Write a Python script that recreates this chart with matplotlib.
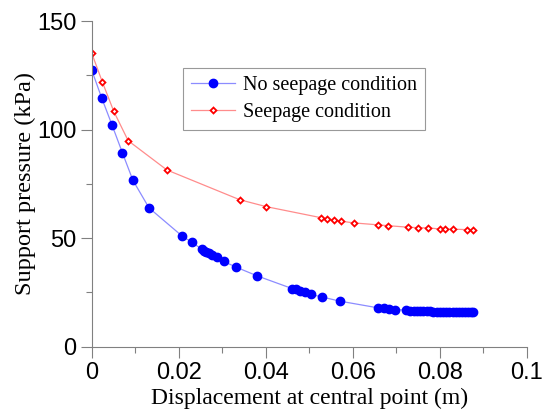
import matplotlib
matplotlib.use("Agg")
import matplotlib.pyplot as plt
from matplotlib.ticker import MultipleLocator

# No seepage condition
x_noseep = [0, 0.0023, 0.0047, 0.0071, 0.0095, 0.0132, 0.0207, 0.0230, 0.0253, 0.0258,
            0.0264, 0.0270, 0.0277, 0.0287, 0.0304, 0.0332, 0.0380, 0.0461, 0.0469, 0.0478,
            0.0490, 0.0505, 0.0530, 0.0571, 0.0659, 0.0671, 0.0683, 0.0697, 0.0723, 0.0732,
            0.0740, 0.0747, 0.0755, 0.0762, 0.0770, 0.0778, 0.0785, 0.0793, 0.0800, 0.0808,
            0.0815, 0.0822, 0.0830, 0.0837, 0.0844, 0.0851, 0.0858, 0.0865, 0.0871, 0.0877]
p_noseep = [127.6, 114.7, 102.1, 89.2, 76.6, 63.9, 51.1, 48.1, 44.9, 44.2,
            43.6, 43.0, 42.2, 41.2, 39.2, 36.6, 32.6, 26.7, 26.3, 25.7,
            25.1, 24.0, 22.8, 20.9, 17.8, 17.7, 17.4, 17.0, 16.8, 16.6,
            16.5, 16.4, 16.4, 16.3, 16.2, 16.2, 16.1, 16.1, 16.0, 16.0,
            15.9, 15.9, 15.9, 15.8, 15.8, 15.8, 15.7, 15.7, 15.7, 15.7]

# Seepage condition
x_seep = [0, 0.0025, 0.0051, 0.0084, 0.0173, 0.0340, 0.0401, 0.0527, 0.0541, 0.0557,
          0.0573, 0.0602, 0.0658, 0.0682, 0.0728, 0.0749, 0.0773, 0.0800, 0.0812, 0.0831,
          0.0862, 0.0876]
p_seep = [135.4, 121.8, 108.4, 94.9, 81.4, 67.7, 64.5, 59.4, 58.8, 58.4,
          57.8, 57.0, 56.1, 55.7, 55.0, 54.8, 54.7, 54.2, 54.2, 54.1,
          53.9, 53.9]

xtick_labels = ['0', '0.02', '0.04', '0.06', '0.08', '0.1']

fig = plt.figure(figsize=(5.42, 4.15), dpi=100)
ax = fig.add_axes([0.169, 0.165, 0.803, 0.784])

ax.plot(x_noseep, p_noseep, color='#8c8cff', lw=0.9, marker='o', ms=6,
        mfc='#0000ff', mec='#0000ff', label='No seepage condition')
ax.plot(x_seep, p_seep, color='#ff8c8c', lw=0.9, marker='D', ms=3.0,
        mfc='white', mec='#ff0000', mew=1.3, label='Seepage condition')

ax.set_xlim(0, 0.1)
ax.set_ylim(0, 150)
ax.set_xticks([0, 0.02, 0.04, 0.06, 0.08, 0.1])
ax.set_xticklabels(xtick_labels)
ax.xaxis.set_minor_locator(MultipleLocator(0.01))
ax.yaxis.set_major_locator(MultipleLocator(50))
ax.yaxis.set_minor_locator(MultipleLocator(25))

for s in ['top', 'right']:
    ax.spines[s].set_visible(False)
for s in ['left', 'bottom']:
    ax.spines[s].set_color('#808080')
    ax.spines[s].set_linewidth(0.8)

ax.tick_params(which='major', direction='out', length=8, width=0.8, color='#808080',
               labelsize=17, pad=3)
ax.tick_params(which='minor', direction='out', length=4, width=0.8, color='#808080')
for lbl in ax.get_xticklabels() + ax.get_yticklabels():
    lbl.set_family('Liberation Sans')

ax.set_xlabel('Displacement at central point (m)', family='Liberation Serif',
              fontsize=17, labelpad=3)
ax.set_ylabel('Support pressure (kPa)', family='Liberation Serif', fontsize=17.5,
              labelpad=1)

leg = ax.legend(loc='upper left', bbox_to_anchor=(0.21, 0.855), fancybox=False,
                prop={'family': 'Liberation Serif', 'size': 14.5}, handlelength=2.2,
                borderpad=0.4, labelspacing=0.35, handletextpad=0.4, borderaxespad=0)
leg.get_frame().set_edgecolor('#808080')
leg.get_frame().set_linewidth(0.8)

fig.savefig('out.png', dpi=100)
